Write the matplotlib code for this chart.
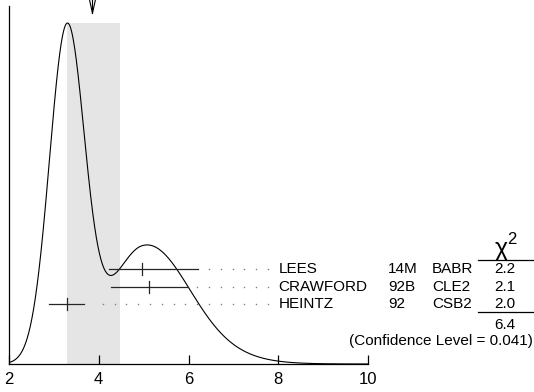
import numpy as np
import matplotlib.pyplot as plt
import matplotlib.transforms as mtransforms

plt.rcParams['font.family'] = ['Liberation Sans', 'DejaVu Sans']

# measurements (value, lower error, upper error)
names = ["LEES", "CRAWFORD", "HEINTZ"]
codes = ["14M", "92B", "92"]
experiments = ["BABR", "CLE2", "CSB2"]
values = [4.96, 5.12, 3.29]
err_lo = [0.74, 0.85, 0.39]
err_hi = [1.25, 0.86, 0.39]
chi2 = ["2.2", "2.1", "2.0"]
chi2_total = "6.4"
conf_level = "0.041"

# weighted average and its error band
fit_mean = 3.86
fit_lo, fit_hi = 3.29, 4.47

xticks = [2, 4, 6, 8, 10]


def ideogram(x):
    """Sum of (bifurcated) gaussians, area ~ 1/sigma."""
    y = np.zeros_like(x)
    for v, lo, hi in zip(values, err_lo, err_hi):
        s = np.where(x < v, lo, hi)
        w = 1.0 / (0.5 * (lo + hi)) ** 2
        y += w * np.exp(-0.5 * ((x - v) / s) ** 2)
    return y


fig = plt.figure(figsize=(5.34, 3.92), dpi=100)
ax = fig.add_axes([9 / 534, 28 / 392, 359 / 534, 358 / 392])
tr = mtransforms.blended_transform_factory(ax.transData, ax.transAxes)

x = np.linspace(2, 10, 1601)
y = ideogram(x)
peak = y.max()
ax.set_xlim(2, 10)
ax.set_ylim(0, peak * 358 / 341)

# error band of the average
ax.fill_between([fit_lo, fit_hi], 0, peak, color="#e5e5e5", lw=0, zorder=0)
ax.plot(x, y, color="black", lw=0.8, zorder=3)

# arrow marking the average
ya, yb = 1.0168, 0.980
hw = 0.065
for x0 in (fit_mean - hw, fit_mean, fit_mean + hw):
    ax.plot([x0, fit_mean], [ya, yb], color="black", lw=0.8,
            transform=tr, clip_on=False)

# measurement rows
row_y = [0.2654, 0.2151, 0.1676]
dot_end, dot_step = 7.77, 0.263
dot_grid = dot_end - dot_step * np.arange(0, 25)
for i in range(len(names)):
    yy = row_y[i]
    v, lo, hi = values[i], err_lo[i], err_hi[i]
    ax.plot([v - lo, v + hi], [yy, yy], color="0.15", lw=0.9,
            transform=tr, clip_on=False, zorder=4)
    ax.plot([v, v], [yy - 0.017, yy + 0.017], color="0.15", lw=0.9,
            transform=tr, clip_on=False, zorder=4)
    dx = dot_grid[dot_grid > v + hi + 0.18]
    ax.plot(dx, [yy] * len(dx), ls="none", marker="o", ms=1.1,
            mec="none", mfc="0.5", transform=tr, clip_on=False)
    ax.text(8.0, yy, names[i], transform=tr, fontsize=11,
            ha="left", va="center")
    ax.text(10.446, yy, codes[i], transform=tr, fontsize=11,
            ha="left", va="center")
    ax.text(11.426, yy, experiments[i], transform=tr, fontsize=11,
            ha="left", va="center")
    ax.text(13.05, yy, chi2[i], transform=tr, fontsize=11,
            ha="center", va="center")

# chi2 column
ax.text(12.98, 0.320, "χ", transform=tr, fontsize=18,
        ha="center", va="center")
ax.text(13.21, 0.347, "2", transform=tr, fontsize=12,
        ha="center", va="center")
for ly in (0.2905, 0.1453):
    ax.plot([12.45, 13.70], [ly, ly], color="black", lw=0.9,
            transform=tr, clip_on=False)
ax.text(13.05, 0.1089, chi2_total, transform=tr, fontsize=11,
        ha="center", va="center")
ax.text(13.68, 0.0642, f"(Confidence Level = {conf_level})", transform=tr,
        fontsize=11, ha="right", va="center")

# axes
for side in ("top", "right"):
    ax.spines[side].set_visible(False)
ax.spines["left"].set_linewidth(0.9)
ax.spines["bottom"].set_linewidth(0.9)
ax.set_xticks(xticks)
ax.set_xticklabels([str(t) for t in xticks])
ax.tick_params(axis="x", direction="in", length=6.5, width=0.9,
               labelsize=12, pad=6)
ax.set_yticks([])
ax.patch.set_alpha(0)

fig.savefig("out.png", dpi=100)
